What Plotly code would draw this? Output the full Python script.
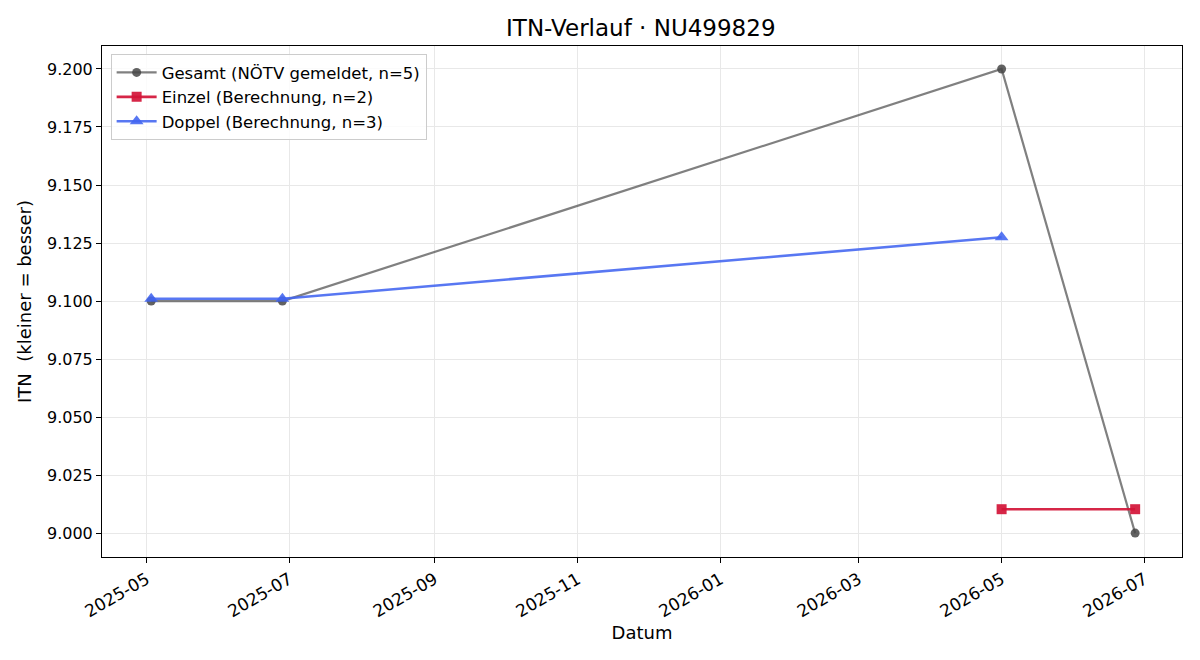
import plotly.graph_objects as go

title = "ITN-Verlauf · NU499829"

gesamt_dates = ["2025-05-03", "2025-06-28", "2026-05-01", "2026-06-27"]
gesamt_vals = [9.100, 9.100, 9.200, 9.000]

einzel_dates = ["2026-05-01", "2026-06-27"]
einzel_vals = [9.0103, 9.0103]

doppel_dates = ["2025-05-03", "2025-06-28", "2026-05-01"]
doppel_vals = [9.101, 9.101, 9.1275]

y_ticks = [9.000, 9.025, 9.050, 9.075, 9.100, 9.125, 9.150, 9.175, 9.200]

fig = go.Figure()
fig.add_trace(go.Scatter(
    x=gesamt_dates, y=gesamt_vals, mode="lines+markers",
    name="Gesamt (NÖTV gemeldet, n=5)",
    line=dict(color="rgba(85,85,85,0.75)", width=2.2),
    marker=dict(symbol="circle", size=9, color="rgba(70,70,70,0.85)"),
))
fig.add_trace(go.Scatter(
    x=einzel_dates, y=einzel_vals, mode="lines+markers",
    name="Einzel (Berechnung, n=2)",
    line=dict(color="rgba(211,20,55,0.92)", width=2.6),
    marker=dict(symbol="square", size=10, color="rgba(211,20,55,0.92)"),
))
fig.add_trace(go.Scatter(
    x=doppel_dates, y=doppel_vals, mode="lines+markers",
    name="Doppel (Berechnung, n=3)",
    line=dict(color="rgba(65,100,240,0.88)", width=2.6),
    marker=dict(symbol="triangle-up", size=12, color="rgba(65,100,240,0.88)"),
))

axis_common = dict(
    showline=True, linecolor="black", linewidth=1, mirror=True,
    ticks="outside", ticklen=5, tickcolor="black",
    showgrid=True, gridcolor="#e8e8e8", gridwidth=1,
    zeroline=False,
)

fig.update_layout(
    width=1200, height=660,
    paper_bgcolor="white", plot_bgcolor="white",
    margin=dict(l=102, r=18, t=46, b=103),
    title=dict(text=title, x=0.534, xanchor="center", y=0.958, yanchor="middle",
               font=dict(family="DejaVu Sans", size=23, color="black")),
    font=dict(family="DejaVu Sans", color="black"),
    showlegend=True,
    legend=dict(x=0.008, y=0.984, xanchor="left", yanchor="top",
                bgcolor="rgba(255,255,255,0.8)", bordercolor="#cccccc", borderwidth=1,
                font=dict(family="DejaVu Sans", size=16.5, color="black"),
                itemwidth=40),
    xaxis=dict(
        **axis_common,
        tickfont=dict(family="DejaVu Sans", size=17, color="black"),
        type="date",
        range=["2025-04-12", "2026-07-17"],
        tick0="2025-05-01", dtick="M2", tickformat="%Y-%m", tickangle=-30,
        title=dict(text="Datum", font=dict(family="DejaVu Sans", size=18, color="black"), standoff=6),
    ),
    yaxis=dict(
        **axis_common,
        tickfont=dict(family="DejaVu Sans", size=16, color="black"),
        range=[8.9897, 9.2099],
        tickvals=y_ticks, tickformat=".3f",
        title=dict(text="ITN  (kleiner = besser)", font=dict(family="DejaVu Sans", size=18, color="black"), standoff=10),
    ),
)

fig.write_html("out.html")
